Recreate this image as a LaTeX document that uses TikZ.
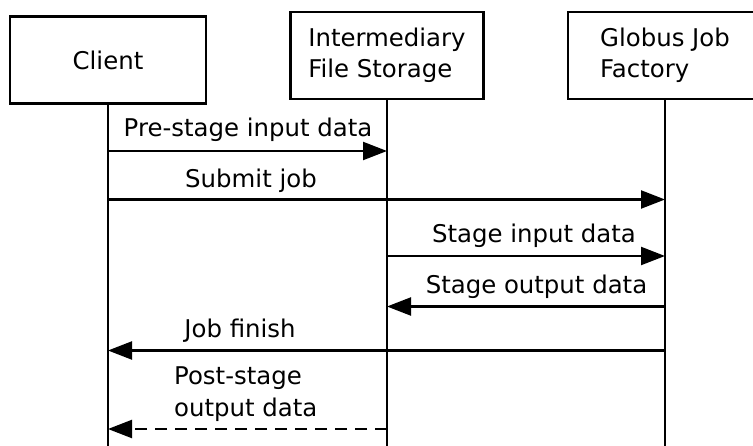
\documentclass[tikz,border=0pt]{standalone}
\usepackage{fontspec}
\setmainfont{DejaVu Sans}
\usetikzlibrary{arrows.meta}
\begin{document}
\begin{tikzpicture}[x=1pt,y=-1pt,
  actor/.style={draw,line width=2.2pt,minimum width=194pt,minimum height=87pt,align=left,inner sep=0pt,font=\fontsize{24.4}{31}\selectfont},
  life/.style={line width=2pt},
  msg/.style={line width=2.2pt,-{Triangle[length=24pt,width=18pt]}},
  lbl/.style={anchor=base,inner sep=0pt,font=\fontsize{24.4}{31.5}\selectfont}]
\useasboundingbox (0,0) rectangle (753,446);
\node[actor,minimum width=196pt] (client) at (108,60) {Client};
\node[actor,minimum width=193pt] (ifs) at (387,55.5) {Intermediary\\File Storage};
\node[actor] (gjf) at (665,55.5) {Globus Job\\Factory};
\coordinate (cend) at (108,446);
\coordinate (iend) at (387,446);
\coordinate (gend) at (665,446);
\draw[life] (client.south) -- (cend);
\draw[life] (ifs.south) -- (iend);
\draw[life] (gjf.south) -- (gend);
% message end points
\coordinate (c1) at (108,151); \coordinate (i1) at (387,151);
\coordinate (c2) at (108,199.5); \coordinate (g2) at (665,199.5);
\coordinate (i3) at (387,256); \coordinate (g3) at (665,256);
\coordinate (i4) at (387,306.5); \coordinate (g4) at (665,306.5);
\coordinate (c5) at (108,350.5); \coordinate (g5) at (665,350.5);
\coordinate (c6) at (108,429); \coordinate (i6) at (387,429);
\draw[msg] (c1) -- (i1);
\draw[msg] (c2) -- (g2);
\draw[msg] (i3) -- (g3);
\draw[msg] (g4) -- (i4);
\draw[msg] (g5) -- (c5);
\draw[msg,dash pattern=on 12pt off 8pt] (i6) -- (c6);
\node[lbl] (l1) at (248,137) {Pre-stage input data};
\node[lbl] (l2) at (251,187.5) {Submit job};
\node[lbl] (l3) at (534,243) {Stage input data};
\node[lbl] (l4) at (536.5,294) {Stage output data};
\node[lbl] (l5) at (240,337.5) {Job finish};
\node[lbl,anchor=base west,align=left] (l6) at (174,416.5) {Post-stage\\output data};
\end{tikzpicture}
\end{document}
